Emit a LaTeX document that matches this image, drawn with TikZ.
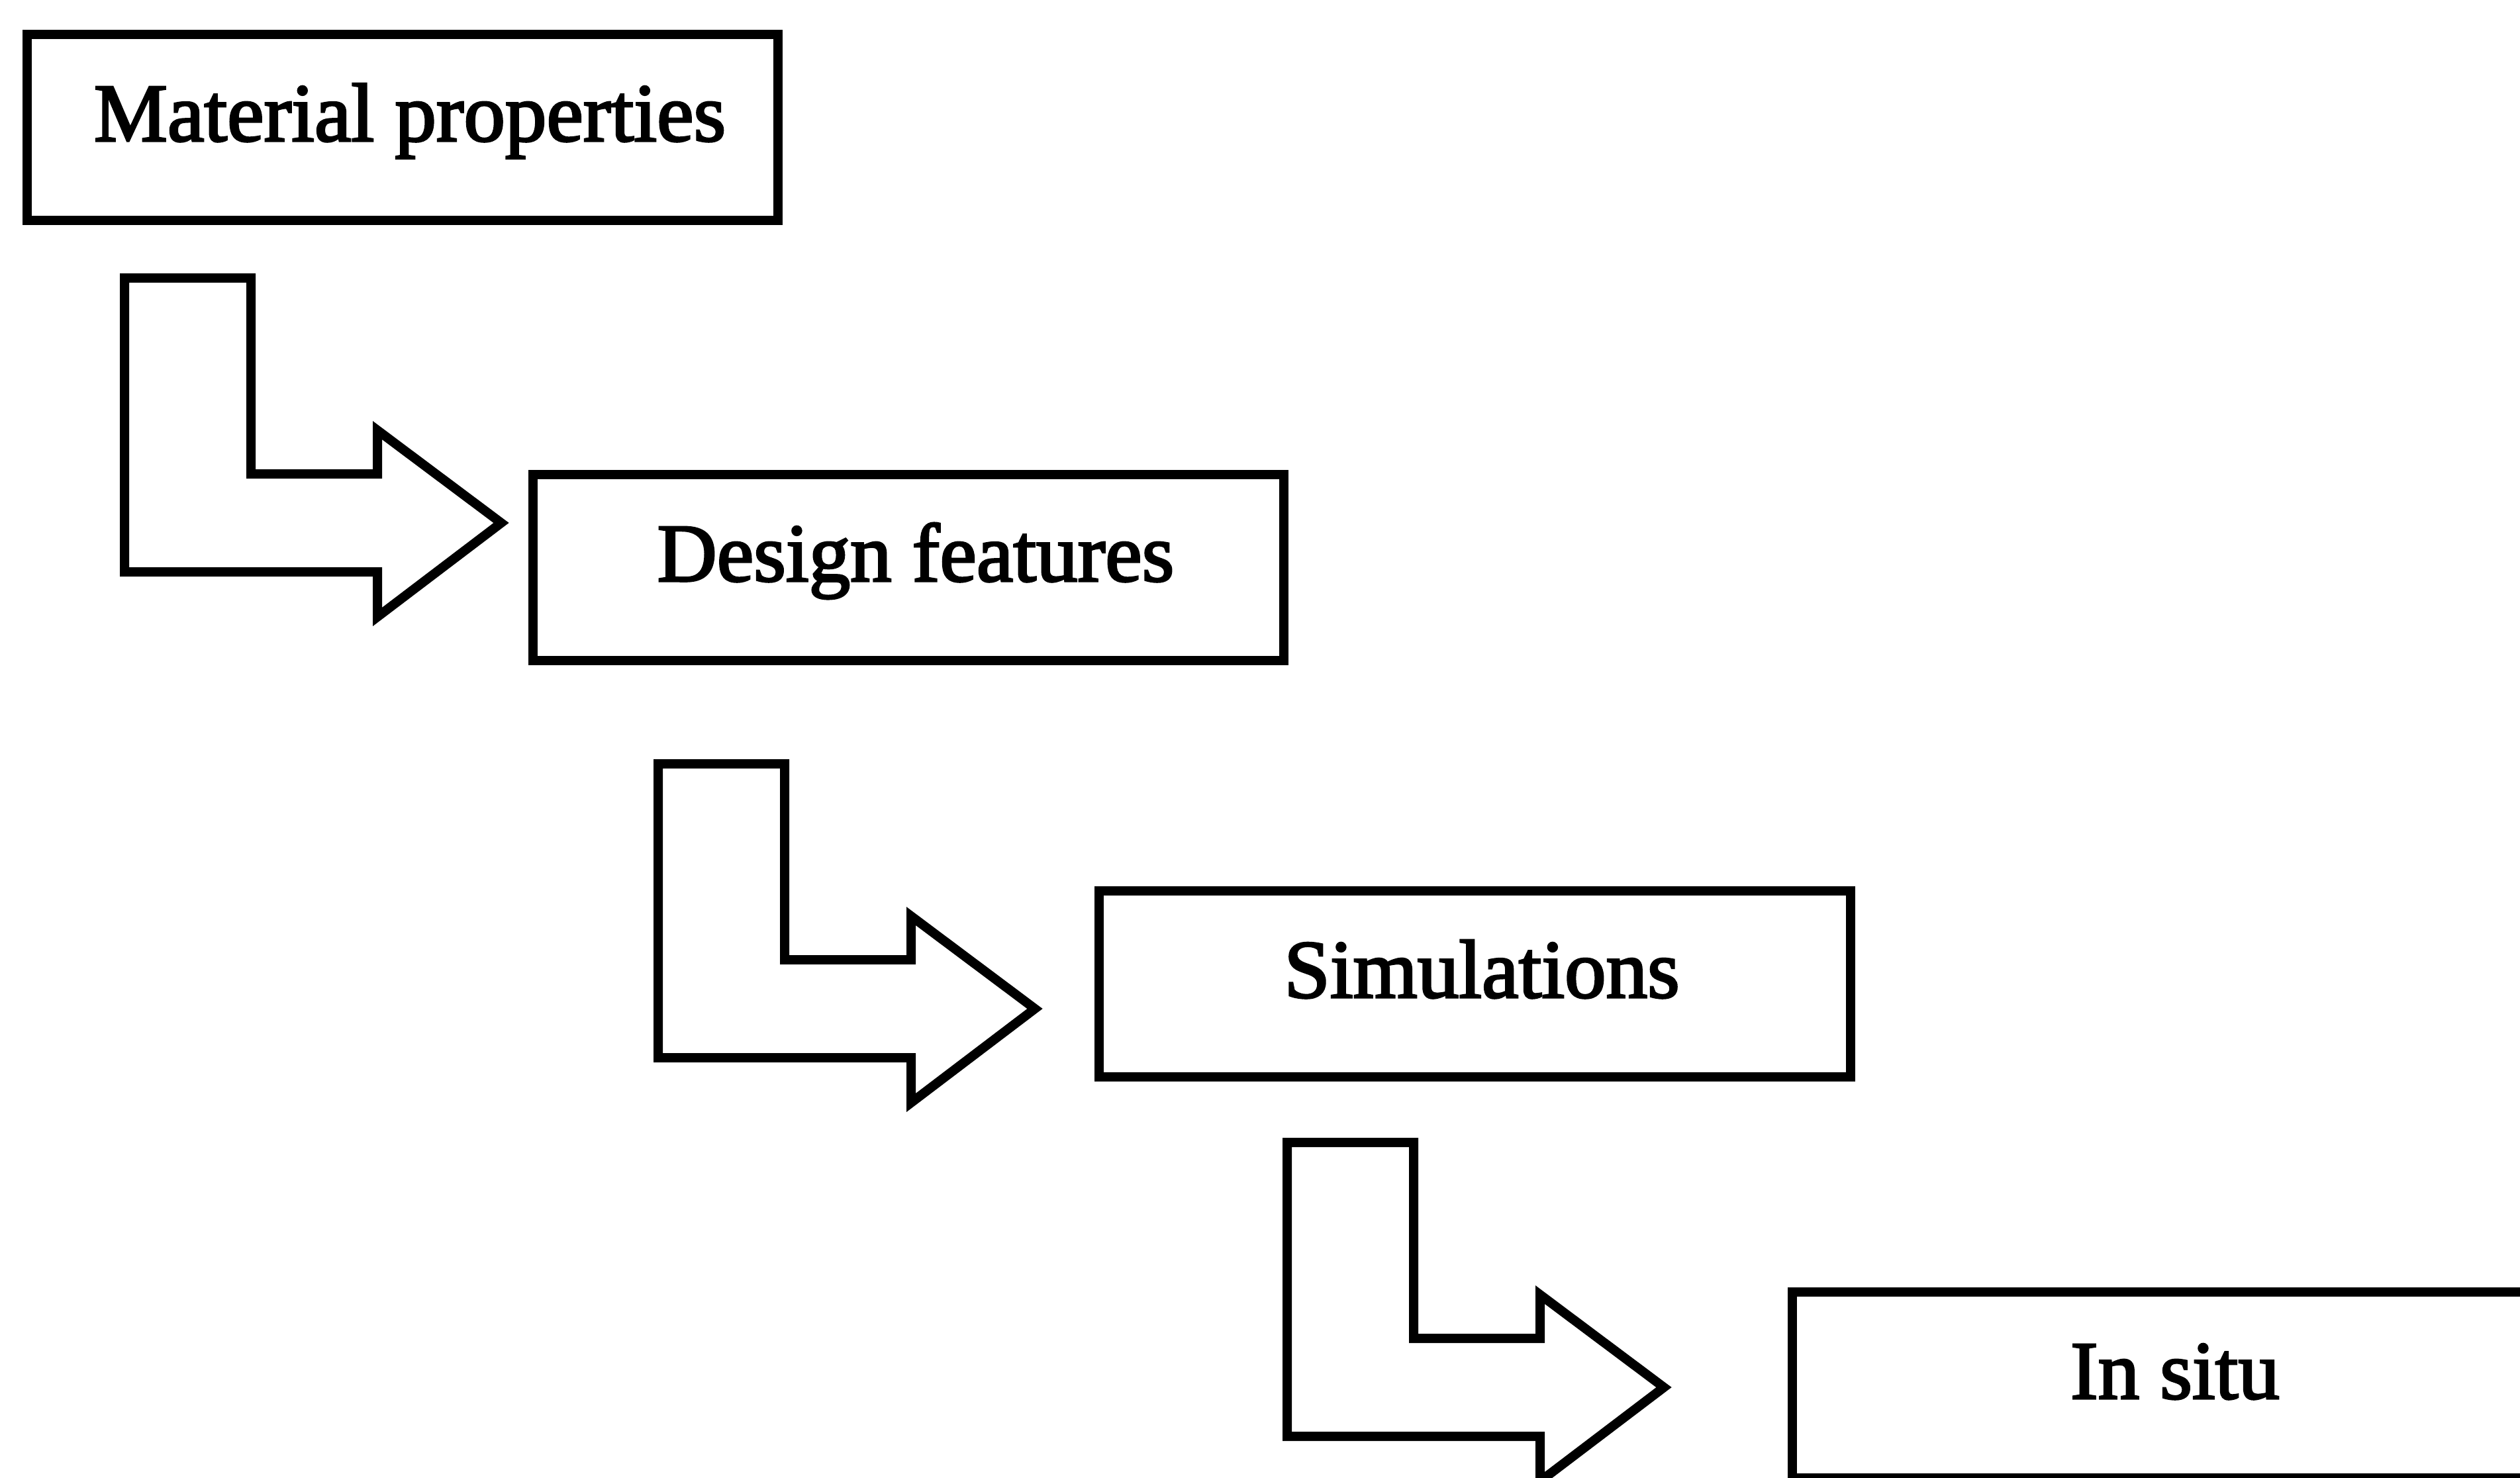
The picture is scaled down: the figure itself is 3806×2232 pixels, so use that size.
\documentclass[tikz,border=0pt]{standalone}
\usepackage{fontspec}
\setmainfont{Liberation Serif}
\newfontfamily\labelfont{Liberation Serif}[FakeBold=2.5]

\tikzset{
  stage/.style={draw, line width=1.4pt, inner sep=0pt, anchor=base,
    minimum width=113.5pt, text height=16.1pt, text depth=12pt,
    execute at begin node={\hspace*{2.2pt}},
    font=\labelfont\fontsize{12.5pt}{15pt}\selectfont},
  % L-shaped block arrow, origin at its top-left corner
  bendarrow/.pic={
    \draw[line width=1.4pt, line join=miter, fill=white]
      (0,0) -- (191,0) -- (191,296) -- (382,296) -- (382,230)
      -- (569,370) -- (382,512) -- (382,444) -- (0,444) -- cycle;
  }
}

\begin{document}
\begin{tikzpicture}[x=0.1pt, y=-0.1pt]
  \useasboundingbox (0,0) rectangle (3806,2232);
  \fill[white] (0,0) rectangle (3806,2232);
  \clip (0,0) rectangle (3806,2232);

  % stages
  \node[stage] (mat) at (608,213)   {Material properties};
  \node[stage] (des) at (1372,878)  {Design features};
  \node[stage] (sim) at (2227,1507) {Simulations};
  \node[stage] (ins) at (3274,2113) {In situ};

  % bent arrows between the stages
  \coordinate (bend1) at (188,420);
  \coordinate (bend2) at (994,1154);
  \coordinate (bend3) at (1944,1726);
  \pic at (bend1) {bendarrow};
  \pic at (bend2) {bendarrow};
  \pic at (bend3) {bendarrow};
\end{tikzpicture}
\end{document}
